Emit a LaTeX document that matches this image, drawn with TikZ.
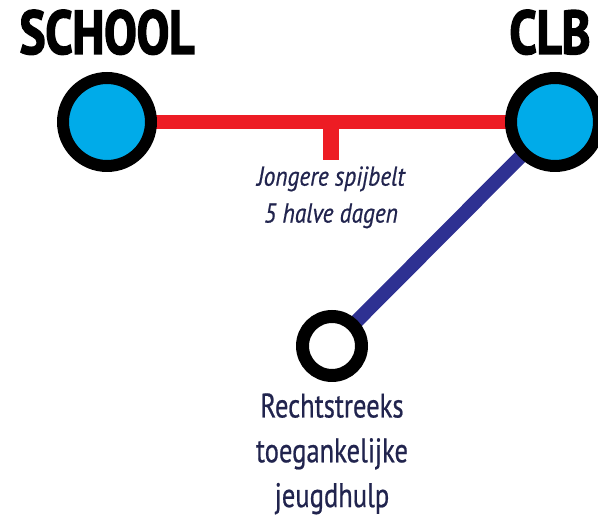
\documentclass[tikz,border=0pt]{standalone}
\usepackage{fontspec}
\setmainfont{PT Sans}
\newfontfamily\headfont[FakeStretch=0.79,FakeBold=2.5]{PT Sans}
\newfontfamily\condfont[FakeStretch=0.78,FakeBold=0.6]{PT Sans}
\newfontfamily\notefont[FakeStretch=0.86,FakeBold=0.6]{PT Sans}
\usetikzlibrary{positioning, calc, backgrounds}

\definecolor{stopblue}{RGB}{0,171,233}
\definecolor{linered}{RGB}{237,28,36}
\definecolor{linenavy}{RGB}{46,49,146}
\definecolor{textnavy}{RGB}{33,36,78}

\begin{document}
\begin{tikzpicture}[x=0.02cm, y=-0.02cm]
\tikzset{station/.style={
    circle, draw=black, line width=0.24cm, fill=stopblue, inner sep=0, minimum size=1.76cm},
    halte/.style={
    circle, draw=black, line width=0.26cm, fill=white, inner sep=0, minimum size=1.18cm},
    headtxt/.style={inner sep=0, font=\headfont\bfseries\fontsize{35}{40}\selectfont},
    smalltxt/.style={inner sep=0, align=center, text=textnavy, font=\notefont\itshape\fontsize{15.5}{21}\selectfont},
    hulptxt/.style={inner sep=0, align=center, text=textnavy, font=\condfont\fontsize{19.4}{25.5}\selectfont}
}
    \useasboundingbox (0,0) rectangle (598,516);

    \node[station] (school) at (107,122) {};
    \node[station] (clb) at (555,122) {};
    \node[halte] (hulp) at (332,346) {};

    \coordinate (mid) at ($(school)!0.5!(clb)$);
    \coordinate (tick) at ($(mid) + (0,38)$);

    \begin{scope}[on background layer]
    \draw[linered, line width=0.28cm] (school.center) -- (clb.center);
    \draw[linered, line width=0.32cm] (mid) -- (tick);
    \draw[linenavy, line width=0.28cm] (clb.center) -- (hulp.center);
    \end{scope}

    \node[headtxt, above=0.34cm of school] (schooltxt) {SCHOOL};
    \node[headtxt, above=0.34cm of clb, xshift=-0.1cm] (clbtxt) {CLB};

    \node[smalltxt, below=0.12cm of tick] (spijbel) {Jongere spijbelt\\5 halve dagen};
    \node[hulptxt, below=0.22cm of hulp] (hulptekst) {Rechtstreeks\\toegankelijke\\jeugdhulp};

\end{tikzpicture}
\end{document}
